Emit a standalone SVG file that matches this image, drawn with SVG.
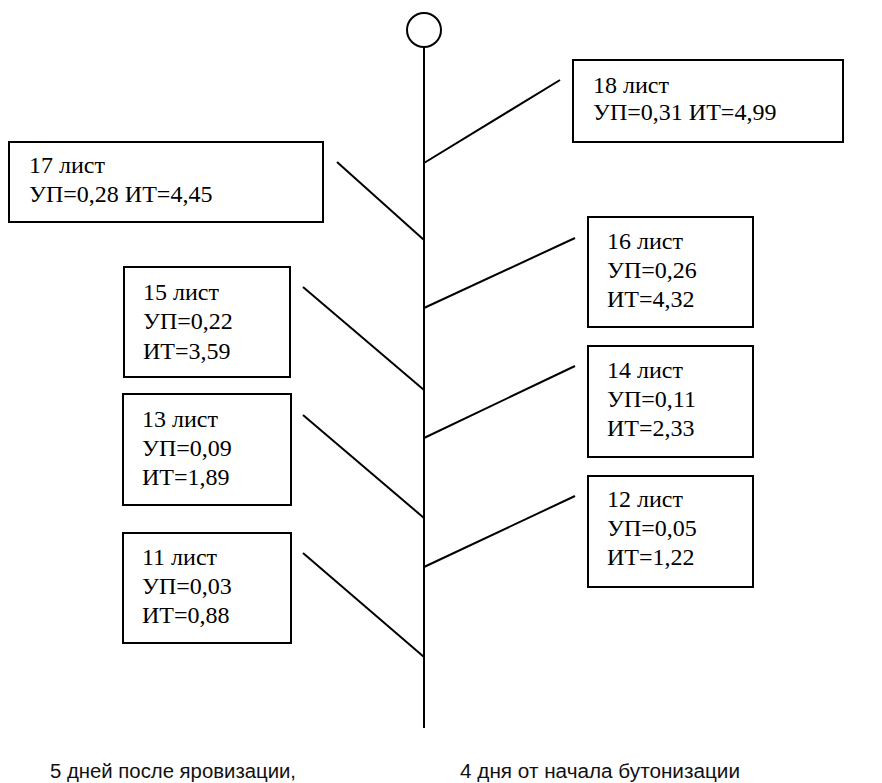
<svg xmlns="http://www.w3.org/2000/svg" width="882" height="783" viewBox="0 0 882 783">
<style>
.box{fill:#fff;stroke:#000;stroke-width:2}
.lbl{font-family:"Liberation Serif","Times New Roman",serif;font-size:24px;fill:#000}
.ln{stroke:#000;stroke-width:2;fill:none}
.cap{font-family:"Liberation Sans",Arial,sans-serif;font-size:20px;fill:#111}
</style>
<rect width="882" height="783" fill="#fff"/>
<g id="connectors">
<line class="ln" x1="424" y1="47" x2="424" y2="728"/>
<line class="ln" x1="424" y1="163" x2="560" y2="80"/>
<line class="ln" x1="337" y1="162" x2="424" y2="240"/>
<line class="ln" x1="424" y1="308" x2="575" y2="238"/>
<line class="ln" x1="303" y1="287" x2="424" y2="390"/>
<line class="ln" x1="424" y1="438" x2="575" y2="366"/>
<line class="ln" x1="303" y1="415" x2="424" y2="518"/>
<line class="ln" x1="424" y1="567" x2="575" y2="496"/>
<line class="ln" x1="303" y1="553" x2="424" y2="657"/>
</g>
<g id="apex"><circle cx="424" cy="30" r="17" fill="#fff" stroke="#000" stroke-width="2"/></g>
<g id="leaf18"><rect class="box" x="573" y="60" width="270" height="82"/>
<text class="lbl" x="593" y="93">18 лист</text><text class="lbl" x="593" y="120">УП=0,31 ИТ=4,99</text></g>
<g id="leaf17"><rect class="box" x="9" y="142" width="314" height="80"/>
<text class="lbl" x="29" y="173">17 лист</text><text class="lbl" x="29" y="202">УП=0,28 ИТ=4,45</text></g>
<g id="leaf16"><rect class="box" x="588" y="217" width="165" height="110"/>
<text class="lbl" x="607" y="249">16 лист</text><text class="lbl" x="607" y="278">УП=0,26</text><text class="lbl" x="607" y="307">ИТ=4,32</text></g>
<g id="leaf15"><rect class="box" x="124" y="267" width="166" height="110"/>
<text class="lbl" x="143" y="300">15 лист</text><text class="lbl" x="143" y="329">УП=0,22</text><text class="lbl" x="143" y="359">ИТ=3,59</text></g>
<g id="leaf14"><rect class="box" x="588" y="346" width="165" height="111"/>
<text class="lbl" x="607" y="378">14 лист</text><text class="lbl" x="607" y="407">УП=0,11</text><text class="lbl" x="607" y="436">ИТ=2,33</text></g>
<g id="leaf13"><rect class="box" x="123" y="394" width="168" height="111"/>
<text class="lbl" x="142" y="427">13 лист</text><text class="lbl" x="142" y="456">УП=0,09</text><text class="lbl" x="142" y="485">ИТ=1,89</text></g>
<g id="leaf12"><rect class="box" x="588" y="476" width="165" height="111"/>
<text class="lbl" x="607" y="507">12 лист</text><text class="lbl" x="607" y="536">УП=0,05</text><text class="lbl" x="607" y="565">ИТ=1,22</text></g>
<g id="leaf11"><rect class="box" x="123" y="533" width="168" height="110"/>
<text class="lbl" x="142" y="565">11 лист</text><text class="lbl" x="142" y="594">УП=0,03</text><text class="lbl" x="142" y="623">ИТ=0,88</text></g>
<g id="captions">
<text class="cap" x="50" y="778" textLength="246" lengthAdjust="spacingAndGlyphs">5 дней после яровизации,</text>
<text class="cap" x="460" y="778" textLength="280" lengthAdjust="spacingAndGlyphs">4 дня от начала бутонизации</text>
</g>
</svg>
